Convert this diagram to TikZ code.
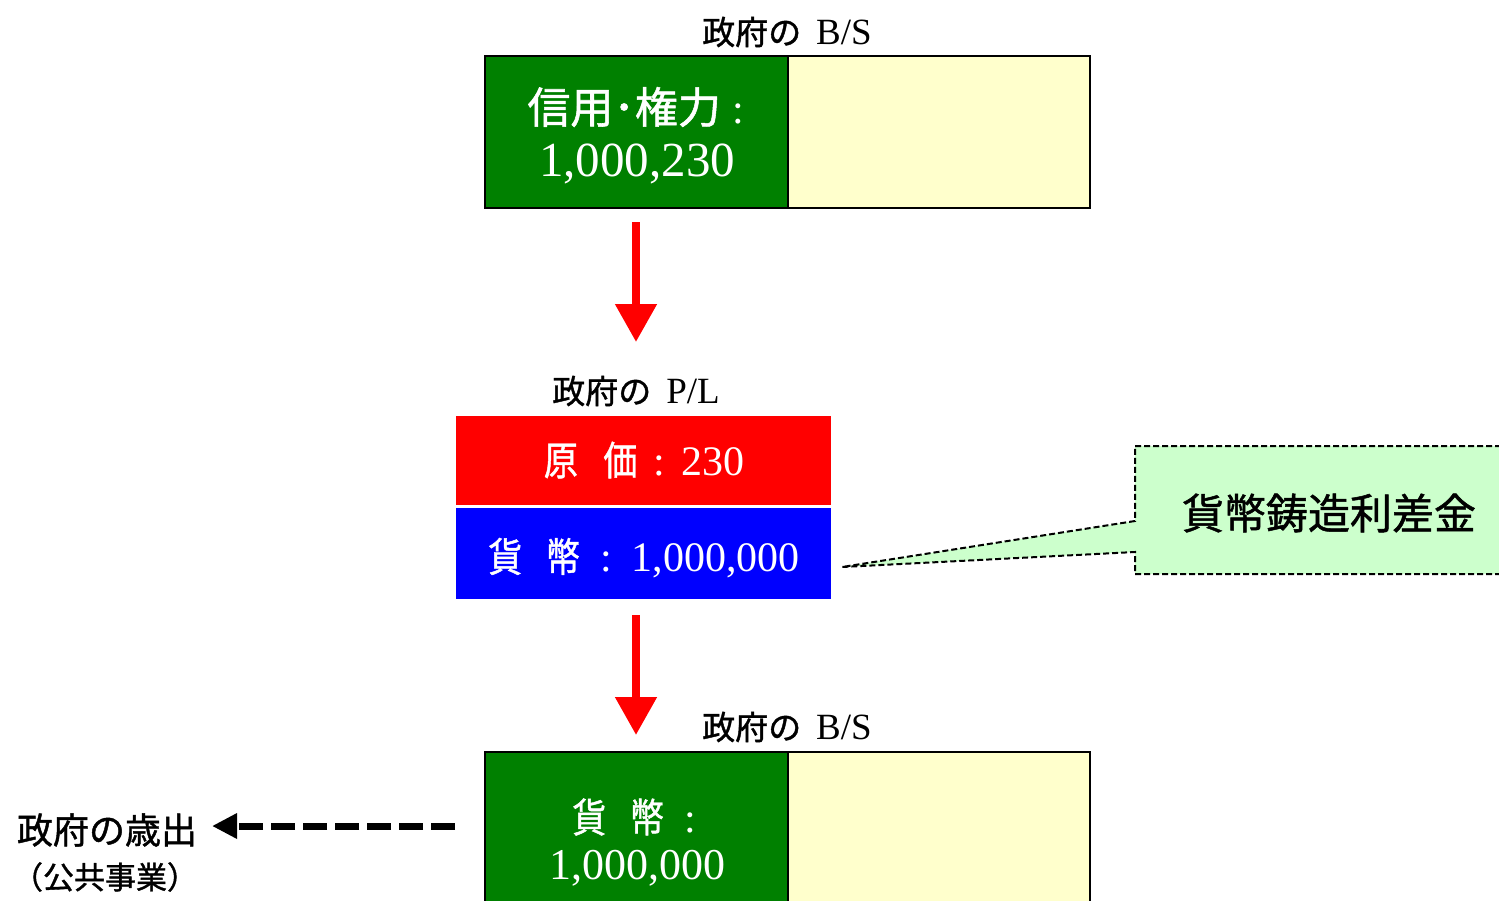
\documentclass[tikz,border=0pt]{standalone}
\usepackage{fontspec}
\usepackage{graphicx}
\setmainfont{Liberation Serif}
\newfontfamily\jp[FakeBold=1.2]{Noto Sans CJK JP}
\usetikzlibrary{arrows.meta}
\definecolor{bsgreen}{RGB}{0,128,0}
\definecolor{bsyellow}{RGB}{255,255,204}
\definecolor{callgreen}{RGB}{204,255,204}
\newcommand{\fs}[1]{\fontsize{#1}{#1}\selectfont}
\newcommand{\cj}[2]{{\jp\fs{#1}#2}}
\newcommand{\cjn}[2]{\scalebox{0.85}[1]{\jp\fs{#1}#2}}
\tikzset{
  boxcell/.style={draw=black, line width=2pt, minimum width=#1, inner sep=0pt, anchor=north west},
  plcell/.style={minimum width=375pt, minimum height=#1, inner sep=0pt, anchor=north west, draw=none},
  txt/.style={inner sep=0pt, text=black},
  wtxt/.style={inner sep=0pt, text=white},
  redarrow/.style={draw=red, line width=8pt, -{Triangle[width=40pt,length=38pt]}, red},
  spendarrow/.style={draw=black, line width=7pt, dash pattern=on 24pt off 8pt, -{Triangle[width=24pt,length=25pt]}},
  callout/.style={draw=black, line width=2pt, dash pattern=on 6pt off 3pt, fill=callgreen}
}
\begin{document}
\begin{tikzpicture}[x=1pt,y=-1pt]
\useasboundingbox (0,0) rectangle (1499,900);

% top B/S
\node[boxcell=303pt, minimum height=152pt, fill=bsgreen] (bs1l) at (484,55) {};
\node[boxcell=302pt, minimum height=152pt, fill=bsyellow] (bs1r) at (787,55) {};
\node[txt] (t1) at (787,32) {\cj{33}{政府の}\hspace{15pt}\fs{37}B/S};
\node[wtxt] (bs1a) at (636,107) {\cj{43}{信用･権力}\hspace{12pt}\fs{42}:};
\node[wtxt] (bs1b) at (637,164) {\fs{49}1,000,230};

% arrow 1
\coordinate (a1s) at (636,222);
\coordinate (a1e) at (636,342);
\draw[redarrow] (a1s) -- (a1e);

% P/L
\node[txt] (t2) at (636,391) {\cj{33}{政府の}\hspace{15pt}\fs{37}P/L};
\node[plcell=89pt, fill=red] (plc) at (456,416) {};
\node[plcell=91pt, fill=blue] (plm) at (456,508) {};
\node[wtxt] (plct) at (644,460) {\cjn{40}{原\hspace{30pt}価}\hspace{16pt}\fs{42}:\hspace{16pt}230};
\node[wtxt] (plmt) at (644,558) {\cjn{40}{貨\hspace{28pt}幣}\hspace{20pt}\fs{42}:\hspace{20pt}1,000,000};

% arrow 2
\coordinate (a2s) at (636,615);
\coordinate (a2e) at (636,735);
\draw[redarrow] (a2s) -- (a2e);

% bottom B/S
\node[txt] (t3) at (787,727) {\cj{33}{政府の}\hspace{15pt}\fs{37}B/S};
\node[boxcell=303pt, minimum height=160pt, fill=bsgreen] (bs2l) at (484,751) {};
\node[boxcell=302pt, minimum height=160pt, fill=bsyellow] (bs2r) at (787,751) {};
\node[wtxt] (bs2a) at (634,817) {\cjn{40}{貨\hspace{28pt}幣}\hspace{20pt}\fs{42}:};
\node[wtxt] (bs2b) at (637,868) {\fs{44}1,000,000};

% callout
\coordinate (ctip) at (842,567);
\draw[callout] (1135,446) -- (1515,446) -- (1515,574) -- (1135,574) -- (1135,552) -- (ctip) -- (1135,521) -- cycle;
\node[txt] (calltxt) at (1329,513) {\cj{42}{貨幣鋳造利差金}};

% spending
\node[txt] (spend) at (107,830) {\cj{36}{政府の歳出}};
\node[txt] (spend2) at (105,877) {\cj{31}{（公共事業）}};
\coordinate (sps) at (455,826);
\coordinate (spe) at (212,826);
\draw[spendarrow] (sps) -- (spe);
\end{tikzpicture}
\end{document}
